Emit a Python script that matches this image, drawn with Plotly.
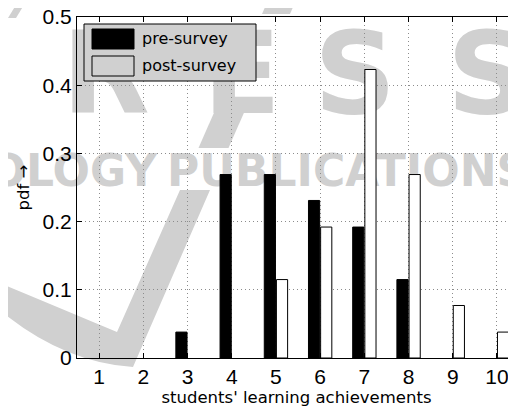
import plotly.graph_objects as go

# ---------------- data ----------------
achievements = [1, 2, 3, 4, 5, 6, 7, 8, 9, 10]
x_tick_labels = ["1", "2", "3", "4", "5", "6", "7", "8", "9", "10"]
pre_survey = [0, 0, 0.038, 0.269, 0.269, 0.231, 0.192, 0.115, 0, 0]
post_survey = [0, 0, 0, 0, 0.115, 0.192, 0.423, 0.269, 0.077, 0.038]
y_ticks = [0, 0.1, 0.2, 0.3, 0.4, 0.5]
y_tick_labels = ["0", "0.1", "0.2", "0.3", "0.4", "0.5"]
series_names = ["pre-survey", "post-survey"]
x_title = "students' learning achievements"
y_title = "pdf \u2192"

# background watermark (publisher logo) texts
wm_texts = ["P", "R", "E", "S", "S", "TECHNOLOGY", "PUBLICATIONS"]

# The page body has an 8 px margin: the figure occupies page pixels 8..516 x 8..408
OFF = 8
W, H = 516 - OFF, 408 - OFF
WM = "#d0d0d0"


def dom_x(px):
    return (px - OFF) / W


def dom_y(py):
    return (H - (py - OFF)) / H


fig = go.Figure()

# watermark layer on a full-figure subplot whose units are page pixels (x / y)
fig.add_trace(go.Scatter(
    x=[-21, 106, 242, 355, 488, 157, 167],
    y=[84, 84, 84, 84, 84, 175, 175],
    mode="text", text=wm_texts,
    textposition=["middle center"] * 5 + ["middle left", "middle right"],
    textfont=dict(family="DejaVu Sans", weight="bold", color=WM,
                  size=[114, 114, 114, 114, 114, 44, 44]),
    cliponaxis=False, hoverinfo="skip", showlegend=False,
    xaxis="x", yaxis="y"))

# bars (no outline on empty bins so nothing doubles the axis line)
fig.add_trace(go.Bar(
    x=achievements, y=pre_survey, name=series_names[0],
    marker=dict(color="black",
                line=dict(color="black", width=[1 if v > 0 else 0 for v in pre_survey])),
    xaxis="x2", yaxis="y2", showlegend=False))
fig.add_trace(go.Bar(
    x=achievements, y=post_survey, name=series_names[1],
    marker=dict(color="white",
                line=dict(color="black", width=[1 if v > 0 else 0 for v in post_survey])),
    xaxis="x2", yaxis="y2", showlegend=False))

shapes = [
    # swoosh of the watermark
    dict(type="path", xref="x", yref="y", layer="below", line=dict(width=0),
         fillcolor=WM,
         path="M -5 281 Q 60 308 117 332 L 180 190 L 210 190 L 133 367 Q 60 362 -5 306 Z"),
    dict(type="path", xref="x", yref="y", layer="below", line=dict(width=0),
         fillcolor=WM, path="M 198.5 148 L 228.5 148 L 244.3 112 L 214.3 112 Z"),
    dict(type="path", xref="x", yref="y", layer="below", line=dict(width=0),
         fillcolor=WM, path="M 262 14 L 290 14 L 297 -2 L 269 -2 Z"),
    dict(type="path", xref="x", yref="y", layer="below", line=dict(width=0),
         fillcolor=WM, path="M 8 18 L 16 18 L 27 0 L 19 0 Z"),
    # legend box and swatches
    dict(type="rect", xref="x", yref="y", layer="above", x0=84, x1=256, y0=24, y1=81,
         fillcolor=WM, line=dict(color="black", width=1)),
    dict(type="rect", xref="x", yref="y", layer="above", x0=92, x1=134, y0=29, y1=49,
         fillcolor="black", line=dict(color="black", width=1)),
    dict(type="rect", xref="x", yref="y", layer="above", x0=92, x1=134, y0=56, y1=76,
         fillcolor=WM, line=dict(color="black", width=1)),
]

annotations = [
    dict(x=140, y=38.5, xref="x", yref="y", text=series_names[0], showarrow=False,
         xanchor="left", yanchor="middle",
         font=dict(family="DejaVu Sans", size=16, color="black")),
    dict(x=140, y=65.5, xref="x", yref="y", text=series_names[1], showarrow=False,
         xanchor="left", yanchor="middle",
         font=dict(family="DejaVu Sans", size=16, color="black")),
]

axis_common = dict(
    ticks="inside", ticklen=5, tickcolor="black", tickwidth=1,
    showline=True, linecolor="black", linewidth=1, mirror="ticks",
    showgrid=True, gridcolor="#8c8c8c", griddash="1px,3px", gridwidth=1,
    zeroline=False, automargin=False, fixedrange=True,
    ticklabeloverflow="allow",
    tickfont=dict(family="Liberation Sans", size=21, color="black"),
)

fig.update_layout(
    template="none",
    width=W, height=H,
    margin=dict(l=0, r=0, t=0, b=0),
    paper_bgcolor="white", plot_bgcolor="rgba(0,0,0,0)",
    barmode="group", bargap=0.45, bargroupgap=0.08,
    showlegend=False,
    xaxis=dict(domain=[0, 1], range=[OFF, OFF + W], visible=False, fixedrange=True),
    yaxis=dict(domain=[0, 1], range=[OFF + H, OFF], visible=False, fixedrange=True),
    xaxis2=dict(domain=[dom_x(77), 1], anchor="y2", range=[0.5, 10.43],
                tickvals=achievements, ticktext=x_tick_labels,
                title=dict(text=x_title, standoff=4,
                           font=dict(family="DejaVu Sans", size=16.5, color="black")),
                **axis_common),
    yaxis2=dict(domain=[dom_y(358), dom_y(17)], anchor="x2", range=[0, 0.5],
                tickvals=y_ticks, ticktext=y_tick_labels,
                title=dict(text=y_title, standoff=8,
                           font=dict(family="DejaVu Sans", size=16.5, color="black")),
                **axis_common),
    shapes=shapes,
    annotations=annotations,
)

fig.write_html("out.html")
